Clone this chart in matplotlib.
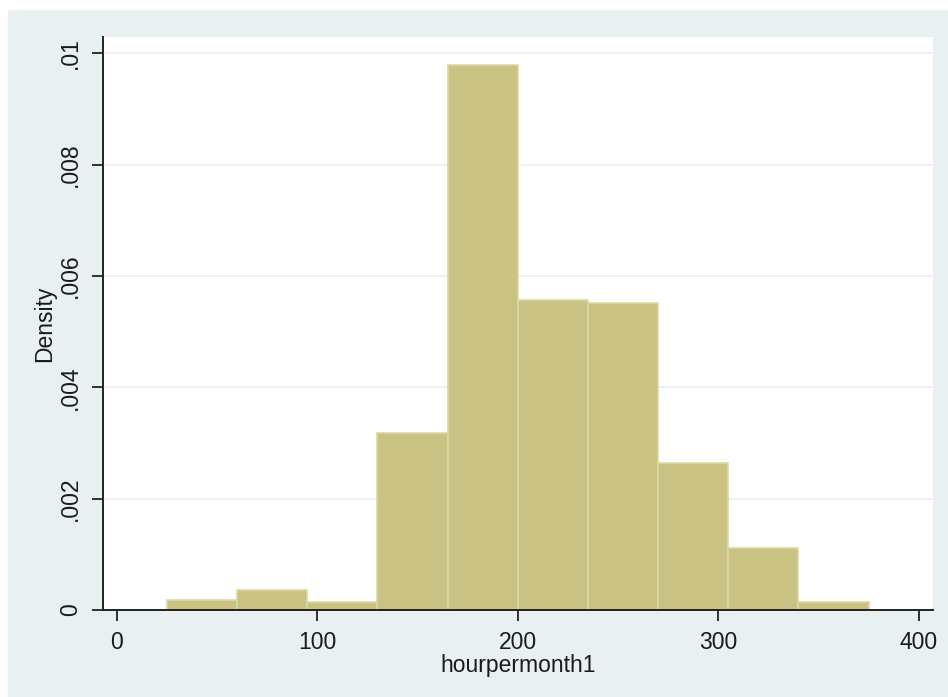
import numpy as np
import matplotlib.pyplot as plt
from matplotlib.patches import Rectangle

plt.rcParams['font.family'] = ['Liberation Sans', 'DejaVu Sans']

# Histogram of hourpermonth1 (density), bins of width 35 starting at 25
bin_edges = [25, 60, 95, 130, 165, 200, 235, 270, 305, 340, 375]
density = [0.00018, 0.00036, 0.00015, 0.00317, 0.00979,
           0.00557, 0.00551, 0.00264, 0.00112, 0.00015]

x_ticks = [0, 100, 200, 300, 400]
y_ticks = [0, 0.002, 0.004, 0.006, 0.008, 0.01]
y_tick_labels = ["0", ".002", ".004", ".006", ".008", ".01"]

BG = "#e8f0f2"
BAR = "#c9c282"
EDGE = "#dcd8a6"

fig = plt.figure(figsize=(9.48, 6.97), dpi=100, facecolor="white")
fig.patches.append(Rectangle((8 / 948, 0), 1, 1 - 10 / 697,
                             transform=fig.transFigure, color=BG, zorder=-10))

ax = fig.add_axes([0.1083, 0.1248, 0.9845 - 0.1083, 0.9469 - 0.1248])
ax.set_facecolor("white")

lefts = np.array(bin_edges[:-1])
widths = np.diff(bin_edges)
ax.bar(lefts, density, width=widths, align="edge", color=BAR,
       edgecolor=EDGE, linewidth=1.2, zorder=3)

ax.set_xlim(-7.1, 407.3)
ax.set_ylim(0, 0.01029)

ax.set_xticks(x_ticks)
ax.set_yticks(y_ticks)
ax.set_yticklabels(y_tick_labels, rotation=90, va="center")

for y in y_ticks[1:]:
    ax.axhline(y, color="#eaf2f3", linewidth=1.5, zorder=1)

for side in ["top", "right"]:
    ax.spines[side].set_visible(False)
for side in ["left", "bottom"]:
    ax.spines[side].set_linewidth(1.4)
    ax.spines[side].set_color("#222222")
    ax.spines[side].set_zorder(4)

ax.tick_params(axis="both", direction="out", length=8, width=1.3,
               color="#222222", labelsize=16.5, labelcolor="#1a1a1a", pad=7)

ax.set_xlabel("hourpermonth1", fontsize=16.5, color="#1a1a1a", labelpad=0)
ax.set_ylabel("Density", fontsize=16.5, color="#1a1a1a", labelpad=2)

fig.savefig("out.png", dpi=100, facecolor=fig.get_facecolor())
